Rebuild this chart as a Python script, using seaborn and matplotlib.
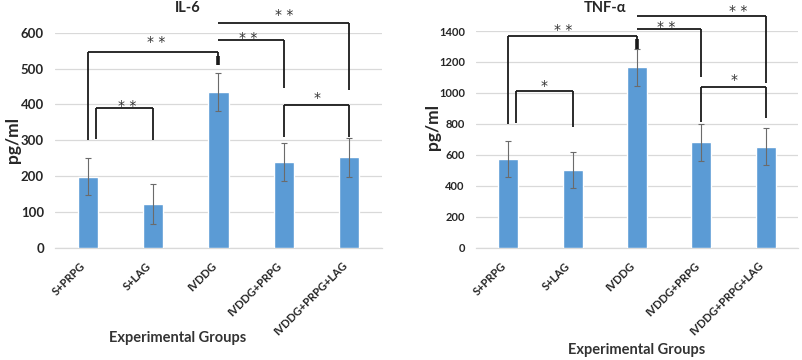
import numpy as np
import seaborn as sns
import matplotlib.pyplot as plt
from matplotlib.transforms import ScaledTranslation

# ---------------------------------------------------------
# Data
# ---------------------------------------------------------
groups = ["S+PRPG", "S+LAG", "IVDDG", "IVDDG+PRPG", "IVDDG+PRPG+LAG"]

il6_mean = [198, 122, 435, 239, 252]
il6_err = [52, 55, 53, 54, 54]

tnf_mean = [573, 502, 1165, 681, 653]
tnf_err = [118, 118, 118, 118, 118]

# significance brackets: (group a, group b)
pairs = [(0, 1), (0, 2), (2, 3), (2, 4), (3, 4)]
il6_sig = ["* *", "* *", "* *", "* *", "*"]
tnf_sig = ["*", "* *", "* *", "* *", "*"]

# bracket heights (data units): top, end of left leg, end of right leg, label
il6_top = [391, 545, 580, 626, 398]
il6_left_end = [303, 300, None, None, 310]
il6_right_end = [300, 510, 445, 440, 310]
il6_label = [408, 585, 598, 662, 430]

tnf_top = [1012, 1370, 1411, 1497, 1036]
tnf_left_end = [808, 800, None, None, 814]
tnf_right_end = [782, 1284, 1101, 1066, 836]
tnf_label = [1070, 1436, 1450, 1555, 1113]

BAR = "#5b9bd5"
GRID = "#d9d9d9"

sns.set_style("white")
plt.rcParams["font.family"] = ["Lato", "DejaVu Sans"]

fig = plt.figure(figsize=(8.03, 3.6), dpi=100)
ax1 = fig.add_axes([55 / 803, 112.3 / 360, 327 / 803, 215 / 360])
ax2 = fig.add_axes([476 / 803, 112.3 / 360, 322 / 803, 216.7 / 360])
shift = ScaledTranslation(0, -3 / 72, fig.dpi_scale_trans)


def draw_panel(ax, means, errs, ymax, ystep, ytick_size, sig, top, left_end, right_end, lab, lab_dx):
    sns.barplot(x=groups, y=means, color=BAR, width=0.31, saturation=1, ax=ax, zorder=3)
    ax.errorbar(np.arange(len(groups)), means, yerr=errs, fmt="none",
                ecolor="#6b6b6b", elinewidth=0.8, capsize=2.5, capthick=0.8, zorder=4)
    ax.set_xlim(-0.5, len(groups) - 0.5)
    ax.set_ylim(0, ymax)
    ax.set_yticks(np.arange(0, ymax + 1, ystep))
    ax.yaxis.grid(True, color=GRID, lw=0.9, zorder=0)
    for s in ["top", "right", "left"]:
        ax.spines[s].set_visible(False)
    ax.spines["bottom"].set_color(GRID)
    ax.spines["bottom"].set_linewidth(0.9)
    ax.tick_params(axis="y", length=0, pad=8, labelsize=ytick_size)
    ax.tick_params(axis="x", length=0, pad=9)
    for t in ax.get_yticklabels():
        t.set_fontweight("bold")
    ax.set_xticks(range(len(groups)))
    ax.set_xticklabels(groups, rotation=45, ha="right", fontsize=8, fontweight="bold")
    ax.set_xlabel("")
    ax.set_ylabel("")

    # significance brackets
    for i, (a, b) in enumerate(pairs):
        xa = a + 0.12 if (a, b) == (0, 1) else a
        kw = dict(color="#1a1a1a", lw=1.3, clip_on=False, zorder=5, solid_capstyle="butt")
        ax.plot([xa, b], [top[i], top[i]], **kw)
        if left_end[i] is not None:
            ax.plot([xa, xa], [top[i], left_end[i]], **kw)
        ax.plot([b, b], [top[i], right_end[i]], **kw)
        if (a, b) == (0, 2):
            # heavier stub where the bracket meets IVDDG
            stub = (top[i] - right_end[i]) * 0.25
            ax.plot([b, b], [top[i] - stub, right_end[i]], color="#1a1a1a", lw=2.6,
                    clip_on=False, zorder=5, solid_capstyle="butt")
        ax.text((xa + b) / 2 + lab_dx[i], lab[i], sig[i], ha="center", va="center",
                fontsize=10, color="#333333", clip_on=False, family="DejaVu Sans",
                transform=ax.transData + shift)


draw_panel(ax1, il6_mean, il6_err, 600, 100, 9.5, il6_sig, il6_top, il6_left_end,
           il6_right_end, il6_label, [0.05, 0.05, -0.05, 0.0, 0.0])
draw_panel(ax2, tnf_mean, tnf_err, 1400, 200, 8, tnf_sig, tnf_top, tnf_left_end,
           tnf_right_end, tnf_label, [0.0, -0.15, -0.05, 0.57, 0.0])

# category boundary ticks on the right panel
ax2.set_xticks(np.arange(-0.5, len(groups)), minor=True)
ax2.tick_params(axis="x", which="minor", length=4, color=GRID, width=0.9)

# titles and axis labels
fig.text(188 / 803, 1 - 8 / 360, "IL-6", ha="center", va="center", fontsize=10.5, fontweight="bold")
fig.text(605 / 803, 1 - 8 / 360, "TNF-α", ha="center", va="center", fontsize=10.5, fontweight="bold")
fig.text(13 / 803, 1 - 140 / 360, "pg/ml", ha="center", va="center", rotation=90,
         fontsize=12.5, fontweight="bold")
fig.text(433 / 803, 1 - 127 / 360, "pg/ml", ha="center", va="center", rotation=90,
         fontsize=12.5, fontweight="bold")
fig.text(178 / 803, 1 - 338 / 360, "Experimental Groups", ha="center", va="center",
         fontsize=10.5, fontweight="bold", color="#333333")
fig.text(637 / 803, 1 - 350 / 360, "Experimental Groups", ha="center", va="center",
         fontsize=10.5, fontweight="bold", color="#333333")

fig.savefig("out.png", dpi=100)
